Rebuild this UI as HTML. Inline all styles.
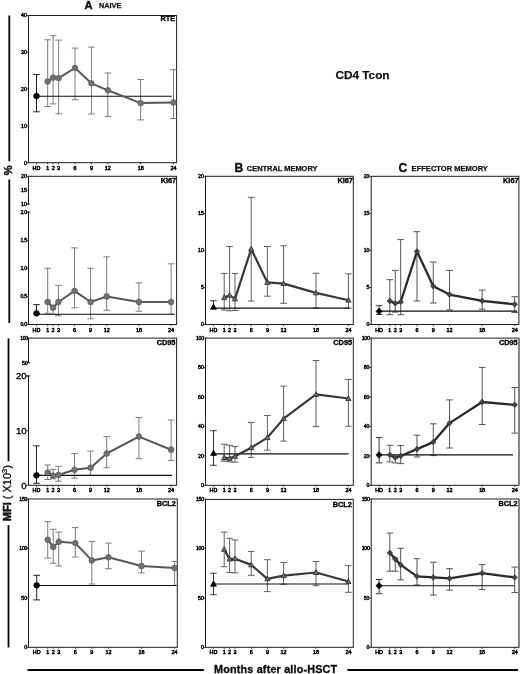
<!DOCTYPE html>
<html lang="en">
<head>
<meta charset="utf-8">
<title>CD4 Tcon</title>
<style>
html,body{margin:0;padding:0;background:#fff;}
body{width:520px;height:674px;overflow:hidden;font-family:"Liberation Sans", Arial, Helvetica, sans-serif;}
svg{display:block;filter:blur(0.35px);}
</style>
</head>
<body>
<svg width="520" height="674" viewBox="0 0 520 674" font-family='"Liberation Sans", Arial, Helvetica, sans-serif'>
<rect width="520" height="674" fill="#ffffff"/>
<g>
<rect x="28.5" y="15.5" width="148.1" height="147.2" fill="none" stroke="#1c1c1c" stroke-width="1"/>
<path d="M26.3 162.7H28.5" stroke="#1c1c1c" stroke-width="0.8"/>
<text x="26.8" y="164.57" font-size="5.2" text-anchor="end" fill="#000" stroke="#000" stroke-width="0.42">0</text>
<path d="M26.3 125.9H28.5" stroke="#1c1c1c" stroke-width="0.8"/>
<text x="26.8" y="127.77" font-size="5.2" text-anchor="end" fill="#000" stroke="#000" stroke-width="0.42">10</text>
<path d="M26.3 89.1H28.5" stroke="#1c1c1c" stroke-width="0.8"/>
<text x="26.8" y="90.97" font-size="5.2" text-anchor="end" fill="#000" stroke="#000" stroke-width="0.42">20</text>
<path d="M26.3 52.3H28.5" stroke="#1c1c1c" stroke-width="0.8"/>
<text x="26.8" y="54.17" font-size="5.2" text-anchor="end" fill="#000" stroke="#000" stroke-width="0.42">30</text>
<path d="M26.3 15.5H28.5" stroke="#1c1c1c" stroke-width="0.8"/>
<text x="26.8" y="17.37" font-size="5.2" text-anchor="end" fill="#000" stroke="#000" stroke-width="0.42">40</text>
<path d="M36.5 162.7V164.3" stroke="#1c1c1c" stroke-width="0.8"/>
<text x="36.5" y="169.7" font-size="5.4" text-anchor="middle" fill="#000" stroke="#000" stroke-width="0.5">HD</text>
<path d="M47.67 162.7V164.3" stroke="#1c1c1c" stroke-width="0.8"/>
<text x="47.67" y="169.7" font-size="5.4" text-anchor="middle" fill="#000" stroke="#000" stroke-width="0.5">1</text>
<path d="M53.14 162.7V164.3" stroke="#1c1c1c" stroke-width="0.8"/>
<text x="53.14" y="169.7" font-size="5.4" text-anchor="middle" fill="#000" stroke="#000" stroke-width="0.5">2</text>
<path d="M58.61 162.7V164.3" stroke="#1c1c1c" stroke-width="0.8"/>
<text x="58.61" y="169.7" font-size="5.4" text-anchor="middle" fill="#000" stroke="#000" stroke-width="0.5">3</text>
<path d="M75.02 162.7V164.3" stroke="#1c1c1c" stroke-width="0.8"/>
<text x="75.02" y="169.7" font-size="5.4" text-anchor="middle" fill="#000" stroke="#000" stroke-width="0.5">6</text>
<path d="M91.43 162.7V164.3" stroke="#1c1c1c" stroke-width="0.8"/>
<text x="91.43" y="169.7" font-size="5.4" text-anchor="middle" fill="#000" stroke="#000" stroke-width="0.5">9</text>
<path d="M107.84 162.7V164.3" stroke="#1c1c1c" stroke-width="0.8"/>
<text x="107.84" y="169.7" font-size="5.4" text-anchor="middle" fill="#000" stroke="#000" stroke-width="0.5">12</text>
<path d="M140.66 162.7V164.3" stroke="#1c1c1c" stroke-width="0.8"/>
<text x="140.66" y="169.7" font-size="5.4" text-anchor="middle" fill="#000" stroke="#000" stroke-width="0.5">18</text>
<path d="M173.48 162.7V164.3" stroke="#1c1c1c" stroke-width="0.8"/>
<text x="173.48" y="169.7" font-size="5.4" text-anchor="middle" fill="#000" stroke="#000" stroke-width="0.5">24</text>
<text x="175.1" y="21.3" font-size="7.3" font-weight="bold" text-anchor="end" fill="#000" stroke="#000" stroke-width="0.35">RTE</text>
<path d="M47.67 39.8V106.5M44.37 39.8H50.97M44.37 106.5H50.97" stroke="#7c7c7c" stroke-width="1" fill="none"/>
<path d="M53.14 35.6V103.9M49.84 35.6H56.44M49.84 103.9H56.44" stroke="#7c7c7c" stroke-width="1" fill="none"/>
<path d="M58.61 40.1V113.8M55.31 40.1H61.91M55.31 113.8H61.91" stroke="#7c7c7c" stroke-width="1" fill="none"/>
<path d="M75.02 48.1V99.7M71.72 48.1H78.32M71.72 99.7H78.32" stroke="#7c7c7c" stroke-width="1" fill="none"/>
<path d="M91.43 47.1V113.9M88.13 47.1H94.73M88.13 113.9H94.73" stroke="#7c7c7c" stroke-width="1" fill="none"/>
<path d="M107.84 73V116.6M104.54 73H111.14M104.54 116.6H111.14" stroke="#7c7c7c" stroke-width="1" fill="none"/>
<path d="M140.66 79.5V119.9M137.36 79.5H143.96M137.36 119.9H143.96" stroke="#7c7c7c" stroke-width="1" fill="none"/>
<path d="M173.48 69.7V118.5M170.18 69.7H176.78M170.18 118.5H176.78" stroke="#7c7c7c" stroke-width="1" fill="none"/>
<path d="M36.5 96.2H171.6" stroke="#0c0c0c" stroke-width="1.1"/>
<polyline points="47.67,81.5 53.14,77.6 58.61,78.1 75.02,68 91.43,83.3 107.84,90.3 140.66,103.1 173.48,102.4" fill="none" stroke="#585858" stroke-width="2" stroke-linejoin="round"/>
<circle cx="47.67" cy="81.5" r="2.9" fill="#707070" stroke="#5a5a5a" stroke-width="0.6"/>
<circle cx="53.14" cy="77.6" r="2.9" fill="#707070" stroke="#5a5a5a" stroke-width="0.6"/>
<circle cx="58.61" cy="78.1" r="2.9" fill="#707070" stroke="#5a5a5a" stroke-width="0.6"/>
<circle cx="75.02" cy="68" r="2.9" fill="#707070" stroke="#5a5a5a" stroke-width="0.6"/>
<circle cx="91.43" cy="83.3" r="2.9" fill="#707070" stroke="#5a5a5a" stroke-width="0.6"/>
<circle cx="107.84" cy="90.3" r="2.9" fill="#707070" stroke="#5a5a5a" stroke-width="0.6"/>
<circle cx="140.66" cy="103.1" r="2.9" fill="#707070" stroke="#5a5a5a" stroke-width="0.6"/>
<circle cx="173.48" cy="102.4" r="2.9" fill="#707070" stroke="#5a5a5a" stroke-width="0.6"/>
<path d="M36.5 74.5V111.8M33.2 74.5H39.8M33.2 111.8H39.8" stroke="#141414" stroke-width="0.95" fill="none"/>
<circle cx="36.5" cy="96" r="2.9" fill="#000" stroke="#000" stroke-width="0.6"/>
</g>
<g>
<rect x="28.5" y="176.3" width="148.1" height="148.2" fill="none" stroke="#1c1c1c" stroke-width="1"/>
<rect x="27.5" y="204.5" width="2" height="7.3" fill="#fff"/>
<path d="M26.5 204.1H30.4M26.5 212.2H30.4" stroke="#1c1c1c" stroke-width="0.9"/>
<path d="M26.3 176.3H28.5" stroke="#1c1c1c" stroke-width="0.8"/>
<text x="26.8" y="178.17" font-size="5.2" text-anchor="end" fill="#000" stroke="#000" stroke-width="0.42">20</text>
<path d="M26.3 190.2H28.5" stroke="#1c1c1c" stroke-width="0.8"/>
<text x="26.8" y="192.07" font-size="5.2" text-anchor="end" fill="#000" stroke="#000" stroke-width="0.42">15</text>
<path d="M26.3 204.1H28.5" stroke="#1c1c1c" stroke-width="0.8"/>
<text x="26.8" y="205.97" font-size="5.2" text-anchor="end" fill="#000" stroke="#000" stroke-width="0.42">10</text>
<path d="M26.3 212.2H28.5" stroke="#1c1c1c" stroke-width="0.8"/>
<text x="26.8" y="214.07" font-size="5.2" text-anchor="end" fill="#000" stroke="#000" stroke-width="0.42" letter-spacing="-0.3">2.0</text>
<path d="M26.3 240.3H28.5" stroke="#1c1c1c" stroke-width="0.8"/>
<text x="26.8" y="242.17" font-size="5.2" text-anchor="end" fill="#000" stroke="#000" stroke-width="0.42" letter-spacing="-0.3">1.5</text>
<path d="M26.3 268.35H28.5" stroke="#1c1c1c" stroke-width="0.8"/>
<text x="26.8" y="270.22" font-size="5.2" text-anchor="end" fill="#000" stroke="#000" stroke-width="0.42" letter-spacing="-0.3">1.0</text>
<path d="M26.3 296.4H28.5" stroke="#1c1c1c" stroke-width="0.8"/>
<text x="26.8" y="298.27" font-size="5.2" text-anchor="end" fill="#000" stroke="#000" stroke-width="0.42" letter-spacing="-0.3">0.5</text>
<path d="M26.3 324.5H28.5" stroke="#1c1c1c" stroke-width="0.8"/>
<text x="26.8" y="326.37" font-size="5.2" text-anchor="end" fill="#000" stroke="#000" stroke-width="0.42" letter-spacing="-0.3">0.0</text>
<path d="M36.5 324.5V326.1" stroke="#1c1c1c" stroke-width="0.8"/>
<text x="36.5" y="331.5" font-size="5.4" text-anchor="middle" fill="#000" stroke="#000" stroke-width="0.5">HD</text>
<path d="M47.7 324.5V326.1" stroke="#1c1c1c" stroke-width="0.8"/>
<text x="47.7" y="331.5" font-size="5.4" text-anchor="middle" fill="#000" stroke="#000" stroke-width="0.5">1</text>
<path d="M53.06 324.5V326.1" stroke="#1c1c1c" stroke-width="0.8"/>
<text x="53.06" y="331.5" font-size="5.4" text-anchor="middle" fill="#000" stroke="#000" stroke-width="0.5">2</text>
<path d="M58.42 324.5V326.1" stroke="#1c1c1c" stroke-width="0.8"/>
<text x="58.42" y="331.5" font-size="5.4" text-anchor="middle" fill="#000" stroke="#000" stroke-width="0.5">3</text>
<path d="M74.52 324.5V326.1" stroke="#1c1c1c" stroke-width="0.8"/>
<text x="74.52" y="331.5" font-size="5.4" text-anchor="middle" fill="#000" stroke="#000" stroke-width="0.5">6</text>
<path d="M90.62 324.5V326.1" stroke="#1c1c1c" stroke-width="0.8"/>
<text x="90.62" y="331.5" font-size="5.4" text-anchor="middle" fill="#000" stroke="#000" stroke-width="0.5">9</text>
<path d="M106.71 324.5V326.1" stroke="#1c1c1c" stroke-width="0.8"/>
<text x="106.71" y="331.5" font-size="5.4" text-anchor="middle" fill="#000" stroke="#000" stroke-width="0.5">12</text>
<path d="M138.9 324.5V326.1" stroke="#1c1c1c" stroke-width="0.8"/>
<text x="138.9" y="331.5" font-size="5.4" text-anchor="middle" fill="#000" stroke="#000" stroke-width="0.5">18</text>
<path d="M171.09 324.5V326.1" stroke="#1c1c1c" stroke-width="0.8"/>
<text x="171.09" y="331.5" font-size="5.4" text-anchor="middle" fill="#000" stroke="#000" stroke-width="0.5">24</text>
<text x="176.2" y="183.3" font-size="7.3" font-weight="bold" text-anchor="end" fill="#000" stroke="#000" stroke-width="0.35">Ki67</text>
<path d="M47.7 268.3V313.3M44.4 268.3H50.99M44.4 313.3H50.99" stroke="#7c7c7c" stroke-width="1" fill="none"/>
<path d="M53.06 305.5V314.3M49.76 305.5H56.36M49.76 314.3H56.36" stroke="#7c7c7c" stroke-width="1" fill="none"/>
<path d="M58.42 285.3V315.7M55.12 285.3H61.72M55.12 315.7H61.72" stroke="#7c7c7c" stroke-width="1" fill="none"/>
<path d="M74.52 247.9V307.8M71.22 247.9H77.82M71.22 307.8H77.82" stroke="#7c7c7c" stroke-width="1" fill="none"/>
<path d="M90.62 268.3V318.8M87.32 268.3H93.92M87.32 318.8H93.92" stroke="#7c7c7c" stroke-width="1" fill="none"/>
<path d="M106.71 256.9V310.2M103.41 256.9H110.01M103.41 310.2H110.01" stroke="#7c7c7c" stroke-width="1" fill="none"/>
<path d="M138.9 282.8V311.2M135.6 282.8H142.2M135.6 311.2H142.2" stroke="#7c7c7c" stroke-width="1" fill="none"/>
<path d="M171.09 263.8V314.3M167.79 263.8H174.39M167.79 314.3H174.39" stroke="#7c7c7c" stroke-width="1" fill="none"/>
<path d="M36.5 314.3H174.5" stroke="#0c0c0c" stroke-width="1.1"/>
<polyline points="47.7,302 53.06,307.7 58.42,302 74.52,290.9 90.62,302 106.71,296.5 138.9,302 171.09,302" fill="none" stroke="#585858" stroke-width="2" stroke-linejoin="round"/>
<circle cx="47.7" cy="302" r="2.9" fill="#707070" stroke="#5a5a5a" stroke-width="0.6"/>
<circle cx="53.06" cy="307.7" r="2.9" fill="#707070" stroke="#5a5a5a" stroke-width="0.6"/>
<circle cx="58.42" cy="302" r="2.9" fill="#707070" stroke="#5a5a5a" stroke-width="0.6"/>
<circle cx="74.52" cy="290.9" r="2.9" fill="#707070" stroke="#5a5a5a" stroke-width="0.6"/>
<circle cx="90.62" cy="302" r="2.9" fill="#707070" stroke="#5a5a5a" stroke-width="0.6"/>
<circle cx="106.71" cy="296.5" r="2.9" fill="#707070" stroke="#5a5a5a" stroke-width="0.6"/>
<circle cx="138.9" cy="302" r="2.9" fill="#707070" stroke="#5a5a5a" stroke-width="0.6"/>
<circle cx="171.09" cy="302" r="2.9" fill="#707070" stroke="#5a5a5a" stroke-width="0.6"/>
<path d="M36.5 304.6V313.3M33.2 304.6H39.8" stroke="#141414" stroke-width="0.95" fill="none"/>
<circle cx="36.5" cy="313.3" r="2.9" fill="#000" stroke="#000" stroke-width="0.6"/>
</g>
<g>
<rect x="28.5" y="338.1" width="148.1" height="147.2" fill="none" stroke="#1c1c1c" stroke-width="1"/>
<rect x="27.5" y="363.1" width="2" height="12.5" fill="#fff"/>
<path d="M26.9 362.7H30.4M26.3 376H30.4" stroke="#1c1c1c" stroke-width="0.9"/>
<path d="M26.3 338.1H28.5" stroke="#1c1c1c" stroke-width="0.8"/>
<text x="27.9" y="339.97" font-size="5.2" text-anchor="end" fill="#000" stroke="#000" stroke-width="0.42" letter-spacing="-0.3">100</text>
<path d="M26.3 362.7H28.5" stroke="#1c1c1c" stroke-width="0.8"/>
<text x="27.9" y="364.57" font-size="5.2" text-anchor="end" fill="#000" stroke="#000" stroke-width="0.42">50</text>
<path d="M26.3 376H28.5" stroke="#1c1c1c" stroke-width="0.8"/>
<text x="26.6" y="379.46" font-size="9.6" text-anchor="end" fill="#000" stroke="#000" stroke-width="0.35">20</text>
<path d="M26.3 430.65H28.5" stroke="#1c1c1c" stroke-width="0.8"/>
<text x="26.6" y="434.11" font-size="9.6" text-anchor="end" fill="#000" stroke="#000" stroke-width="0.35">10</text>
<path d="M26.3 485.3H28.5" stroke="#1c1c1c" stroke-width="0.8"/>
<text x="26.6" y="488.76" font-size="9.6" text-anchor="end" fill="#000" stroke="#000" stroke-width="0.35">0</text>
<path d="M36.5 485.3V486.9" stroke="#1c1c1c" stroke-width="0.8"/>
<text x="36.5" y="492.3" font-size="5.4" text-anchor="middle" fill="#000" stroke="#000" stroke-width="0.5">HD</text>
<path d="M47.7 485.3V486.9" stroke="#1c1c1c" stroke-width="0.8"/>
<text x="47.7" y="492.3" font-size="5.4" text-anchor="middle" fill="#000" stroke="#000" stroke-width="0.5">1</text>
<path d="M53.06 485.3V486.9" stroke="#1c1c1c" stroke-width="0.8"/>
<text x="53.06" y="492.3" font-size="5.4" text-anchor="middle" fill="#000" stroke="#000" stroke-width="0.5">2</text>
<path d="M58.42 485.3V486.9" stroke="#1c1c1c" stroke-width="0.8"/>
<text x="58.42" y="492.3" font-size="5.4" text-anchor="middle" fill="#000" stroke="#000" stroke-width="0.5">3</text>
<path d="M74.52 485.3V486.9" stroke="#1c1c1c" stroke-width="0.8"/>
<text x="74.52" y="492.3" font-size="5.4" text-anchor="middle" fill="#000" stroke="#000" stroke-width="0.5">6</text>
<path d="M90.62 485.3V486.9" stroke="#1c1c1c" stroke-width="0.8"/>
<text x="90.62" y="492.3" font-size="5.4" text-anchor="middle" fill="#000" stroke="#000" stroke-width="0.5">9</text>
<path d="M106.71 485.3V486.9" stroke="#1c1c1c" stroke-width="0.8"/>
<text x="106.71" y="492.3" font-size="5.4" text-anchor="middle" fill="#000" stroke="#000" stroke-width="0.5">12</text>
<path d="M138.9 485.3V486.9" stroke="#1c1c1c" stroke-width="0.8"/>
<text x="138.9" y="492.3" font-size="5.4" text-anchor="middle" fill="#000" stroke="#000" stroke-width="0.5">18</text>
<path d="M171.09 485.3V486.9" stroke="#1c1c1c" stroke-width="0.8"/>
<text x="171.09" y="492.3" font-size="5.4" text-anchor="middle" fill="#000" stroke="#000" stroke-width="0.5">24</text>
<text x="175.3" y="345.1" font-size="7.3" font-weight="bold" text-anchor="end" fill="#000" stroke="#000" stroke-width="0.35">CD95</text>
<path d="M47.7 465V479.5M44.4 465H50.99M44.4 479.5H50.99" stroke="#7c7c7c" stroke-width="1" fill="none"/>
<path d="M53.06 469.4V478.8M49.76 469.4H56.36M49.76 478.8H56.36" stroke="#7c7c7c" stroke-width="1" fill="none"/>
<path d="M58.42 466.3V481.2M55.12 466.3H61.72M55.12 481.2H61.72" stroke="#7c7c7c" stroke-width="1" fill="none"/>
<path d="M74.52 453.5V478.1M71.22 453.5H77.82M71.22 478.1H77.82" stroke="#7c7c7c" stroke-width="1" fill="none"/>
<path d="M90.62 451.1V475.3M87.32 451.1H93.92M87.32 475.3H93.92" stroke="#7c7c7c" stroke-width="1" fill="none"/>
<path d="M106.71 436.6V467.7M103.41 436.6H110.01M103.41 467.7H110.01" stroke="#7c7c7c" stroke-width="1" fill="none"/>
<path d="M138.9 417.5V458.7M135.6 417.5H142.2M135.6 458.7H142.2" stroke="#7c7c7c" stroke-width="1" fill="none"/>
<path d="M171.09 420V460.4M167.79 420H174.39M167.79 460.4H174.39" stroke="#7c7c7c" stroke-width="1" fill="none"/>
<path d="M36.5 475.4H172" stroke="#0c0c0c" stroke-width="1.1"/>
<polyline points="47.7,472.6 53.06,475.7 58.42,475 74.52,469.8 90.62,467.7 106.71,453.5 138.9,436.6 171.09,449.7" fill="none" stroke="#585858" stroke-width="2" stroke-linejoin="round"/>
<circle cx="47.7" cy="472.6" r="2.9" fill="#707070" stroke="#5a5a5a" stroke-width="0.6"/>
<circle cx="53.06" cy="475.7" r="2.9" fill="#707070" stroke="#5a5a5a" stroke-width="0.6"/>
<circle cx="58.42" cy="475" r="2.9" fill="#707070" stroke="#5a5a5a" stroke-width="0.6"/>
<circle cx="74.52" cy="469.8" r="2.9" fill="#707070" stroke="#5a5a5a" stroke-width="0.6"/>
<circle cx="90.62" cy="467.7" r="2.9" fill="#707070" stroke="#5a5a5a" stroke-width="0.6"/>
<circle cx="106.71" cy="453.5" r="2.9" fill="#707070" stroke="#5a5a5a" stroke-width="0.6"/>
<circle cx="138.9" cy="436.6" r="2.9" fill="#707070" stroke="#5a5a5a" stroke-width="0.6"/>
<circle cx="171.09" cy="449.7" r="2.9" fill="#707070" stroke="#5a5a5a" stroke-width="0.6"/>
<path d="M36.5 445.9V483.3M33.2 445.9H39.8M33.2 483.3H39.8" stroke="#141414" stroke-width="0.95" fill="none"/>
<circle cx="36.5" cy="475.3" r="2.9" fill="#000" stroke="#000" stroke-width="0.6"/>
</g>
<g>
<rect x="28.5" y="499" width="148.8" height="148.3" fill="none" stroke="#1c1c1c" stroke-width="1"/>
<path d="M26.3 647.3H28.5" stroke="#1c1c1c" stroke-width="0.8"/>
<text x="27.1" y="649.17" font-size="5.2" text-anchor="end" fill="#000" stroke="#000" stroke-width="0.42">0</text>
<path d="M26.3 597.87H28.5" stroke="#1c1c1c" stroke-width="0.8"/>
<text x="27.1" y="599.74" font-size="5.2" text-anchor="end" fill="#000" stroke="#000" stroke-width="0.42">50</text>
<path d="M26.3 548.43H28.5" stroke="#1c1c1c" stroke-width="0.8"/>
<text x="27.1" y="550.31" font-size="5.2" text-anchor="end" fill="#000" stroke="#000" stroke-width="0.42" letter-spacing="-0.3">100</text>
<path d="M26.3 499H28.5" stroke="#1c1c1c" stroke-width="0.8"/>
<text x="27.1" y="500.87" font-size="5.2" text-anchor="end" fill="#000" stroke="#000" stroke-width="0.42" letter-spacing="-0.3">150</text>
<path d="M36.7 647.3V648.9" stroke="#1c1c1c" stroke-width="0.8"/>
<text x="36.7" y="654.3" font-size="5.4" text-anchor="middle" fill="#000" stroke="#000" stroke-width="0.5">HD</text>
<path d="M47.72 647.3V648.9" stroke="#1c1c1c" stroke-width="0.8"/>
<text x="47.72" y="654.3" font-size="5.4" text-anchor="middle" fill="#000" stroke="#000" stroke-width="0.5">1</text>
<path d="M53.23 647.3V648.9" stroke="#1c1c1c" stroke-width="0.8"/>
<text x="53.23" y="654.3" font-size="5.4" text-anchor="middle" fill="#000" stroke="#000" stroke-width="0.5">2</text>
<path d="M58.75 647.3V648.9" stroke="#1c1c1c" stroke-width="0.8"/>
<text x="58.75" y="654.3" font-size="5.4" text-anchor="middle" fill="#000" stroke="#000" stroke-width="0.5">3</text>
<path d="M75.3 647.3V648.9" stroke="#1c1c1c" stroke-width="0.8"/>
<text x="75.3" y="654.3" font-size="5.4" text-anchor="middle" fill="#000" stroke="#000" stroke-width="0.5">6</text>
<path d="M91.85 647.3V648.9" stroke="#1c1c1c" stroke-width="0.8"/>
<text x="91.85" y="654.3" font-size="5.4" text-anchor="middle" fill="#000" stroke="#000" stroke-width="0.5">9</text>
<path d="M108.4 647.3V648.9" stroke="#1c1c1c" stroke-width="0.8"/>
<text x="108.4" y="654.3" font-size="5.4" text-anchor="middle" fill="#000" stroke="#000" stroke-width="0.5">12</text>
<path d="M141.51 647.3V648.9" stroke="#1c1c1c" stroke-width="0.8"/>
<text x="141.51" y="654.3" font-size="5.4" text-anchor="middle" fill="#000" stroke="#000" stroke-width="0.5">18</text>
<path d="M174.61 647.3V648.9" stroke="#1c1c1c" stroke-width="0.8"/>
<text x="174.61" y="654.3" font-size="5.4" text-anchor="middle" fill="#000" stroke="#000" stroke-width="0.5">24</text>
<text x="175.9" y="506" font-size="7.3" font-weight="bold" text-anchor="end" fill="#000" stroke="#000" stroke-width="0.35">BCL2</text>
<path d="M47.72 521.7V558M44.42 521.7H51.02M44.42 558H51.02" stroke="#7c7c7c" stroke-width="1" fill="none"/>
<path d="M53.23 529.3V563.2M49.93 529.3H56.53M49.93 563.2H56.53" stroke="#7c7c7c" stroke-width="1" fill="none"/>
<path d="M58.75 532.1V566M55.45 532.1H62.05M55.45 566H62.05" stroke="#7c7c7c" stroke-width="1" fill="none"/>
<path d="M75.3 527.6V557M72 527.6H78.6M72 557H78.6" stroke="#7c7c7c" stroke-width="1" fill="none"/>
<path d="M91.85 541.4V584M88.55 541.4H95.15M88.55 584H95.15" stroke="#7c7c7c" stroke-width="1" fill="none"/>
<path d="M108.4 543.1V568.7M105.1 543.1H111.7M105.1 568.7H111.7" stroke="#7c7c7c" stroke-width="1" fill="none"/>
<path d="M141.51 551.1V572.9M138.21 551.1H144.81M138.21 572.9H144.81" stroke="#7c7c7c" stroke-width="1" fill="none"/>
<path d="M174.61 561.5V585.5M171.31 561.5H177.91M171.31 585.5H177.91" stroke="#7c7c7c" stroke-width="1" fill="none"/>
<path d="M36.7 585.5H176.5" stroke="#0c0c0c" stroke-width="1.1"/>
<polyline points="47.72,539.7 53.23,546.9 58.75,541.8 75.3,543.1 91.85,560.4 108.4,557.3 141.51,566 174.61,568" fill="none" stroke="#585858" stroke-width="2" stroke-linejoin="round"/>
<circle cx="47.72" cy="539.7" r="2.9" fill="#707070" stroke="#5a5a5a" stroke-width="0.6"/>
<circle cx="53.23" cy="546.9" r="2.9" fill="#707070" stroke="#5a5a5a" stroke-width="0.6"/>
<circle cx="58.75" cy="541.8" r="2.9" fill="#707070" stroke="#5a5a5a" stroke-width="0.6"/>
<circle cx="75.3" cy="543.1" r="2.9" fill="#707070" stroke="#5a5a5a" stroke-width="0.6"/>
<circle cx="91.85" cy="560.4" r="2.9" fill="#707070" stroke="#5a5a5a" stroke-width="0.6"/>
<circle cx="108.4" cy="557.3" r="2.9" fill="#707070" stroke="#5a5a5a" stroke-width="0.6"/>
<circle cx="141.51" cy="566" r="2.9" fill="#707070" stroke="#5a5a5a" stroke-width="0.6"/>
<circle cx="174.61" cy="568" r="2.9" fill="#707070" stroke="#5a5a5a" stroke-width="0.6"/>
<path d="M36.7 575.3V599.9M33.4 575.3H40M33.4 599.9H40" stroke="#141414" stroke-width="0.95" fill="none"/>
<circle cx="36.7" cy="585.3" r="2.9" fill="#000" stroke="#000" stroke-width="0.6"/>
</g>
<g>
<rect x="205.5" y="176.3" width="147.8" height="148.2" fill="none" stroke="#1c1c1c" stroke-width="1"/>
<path d="M203.3 324.5H205.5" stroke="#1c1c1c" stroke-width="0.8"/>
<text x="203.8" y="326.37" font-size="5.2" text-anchor="end" fill="#000" stroke="#000" stroke-width="0.42">0</text>
<path d="M203.3 287.45H205.5" stroke="#1c1c1c" stroke-width="0.8"/>
<text x="203.8" y="289.32" font-size="5.2" text-anchor="end" fill="#000" stroke="#000" stroke-width="0.42">5</text>
<path d="M203.3 250.4H205.5" stroke="#1c1c1c" stroke-width="0.8"/>
<text x="203.8" y="252.27" font-size="5.2" text-anchor="end" fill="#000" stroke="#000" stroke-width="0.42">10</text>
<path d="M203.3 213.35H205.5" stroke="#1c1c1c" stroke-width="0.8"/>
<text x="203.8" y="215.22" font-size="5.2" text-anchor="end" fill="#000" stroke="#000" stroke-width="0.42">15</text>
<path d="M203.3 176.3H205.5" stroke="#1c1c1c" stroke-width="0.8"/>
<text x="203.8" y="178.17" font-size="5.2" text-anchor="end" fill="#000" stroke="#000" stroke-width="0.42">20</text>
<path d="M213.5 324.5V326.1" stroke="#1c1c1c" stroke-width="0.8"/>
<text x="213.5" y="331.5" font-size="5.4" text-anchor="middle" fill="#000" stroke="#000" stroke-width="0.5">HD</text>
<path d="M224.2 324.5V326.1" stroke="#1c1c1c" stroke-width="0.8"/>
<text x="224.2" y="331.5" font-size="5.4" text-anchor="middle" fill="#000" stroke="#000" stroke-width="0.5">1</text>
<path d="M229.6 324.5V326.1" stroke="#1c1c1c" stroke-width="0.8"/>
<text x="229.6" y="331.5" font-size="5.4" text-anchor="middle" fill="#000" stroke="#000" stroke-width="0.5">2</text>
<path d="M235 324.5V326.1" stroke="#1c1c1c" stroke-width="0.8"/>
<text x="235" y="331.5" font-size="5.4" text-anchor="middle" fill="#000" stroke="#000" stroke-width="0.5">3</text>
<path d="M251.2 324.5V326.1" stroke="#1c1c1c" stroke-width="0.8"/>
<text x="251.2" y="331.5" font-size="5.4" text-anchor="middle" fill="#000" stroke="#000" stroke-width="0.5">6</text>
<path d="M267.4 324.5V326.1" stroke="#1c1c1c" stroke-width="0.8"/>
<text x="267.4" y="331.5" font-size="5.4" text-anchor="middle" fill="#000" stroke="#000" stroke-width="0.5">9</text>
<path d="M283.6 324.5V326.1" stroke="#1c1c1c" stroke-width="0.8"/>
<text x="283.6" y="331.5" font-size="5.4" text-anchor="middle" fill="#000" stroke="#000" stroke-width="0.5">12</text>
<path d="M316 324.5V326.1" stroke="#1c1c1c" stroke-width="0.8"/>
<text x="316" y="331.5" font-size="5.4" text-anchor="middle" fill="#000" stroke="#000" stroke-width="0.5">18</text>
<path d="M348.4 324.5V326.1" stroke="#1c1c1c" stroke-width="0.8"/>
<text x="348.4" y="331.5" font-size="5.4" text-anchor="middle" fill="#000" stroke="#000" stroke-width="0.5">24</text>
<text x="352.9" y="183.3" font-size="7.3" font-weight="bold" text-anchor="end" fill="#000" stroke="#000" stroke-width="0.35">Ki67</text>
<path d="M224.2 273.4V310M220.9 273.4H227.5M220.9 310H227.5" stroke="#5e5e5e" stroke-width="1" fill="none"/>
<path d="M229.6 246.5V310.8M226.3 246.5H232.9M226.3 310.8H232.9" stroke="#5e5e5e" stroke-width="1" fill="none"/>
<path d="M235 273.4V310.4M231.7 273.4H238.3M231.7 310.4H238.3" stroke="#5e5e5e" stroke-width="1" fill="none"/>
<path d="M251.2 197.4V301M247.9 197.4H254.5M247.9 301H254.5" stroke="#5e5e5e" stroke-width="1" fill="none"/>
<path d="M267.4 246.5V296.2M264.1 246.5H270.7M264.1 296.2H270.7" stroke="#5e5e5e" stroke-width="1" fill="none"/>
<path d="M283.6 245.8V303.3M280.3 245.8H286.9M280.3 303.3H286.9" stroke="#5e5e5e" stroke-width="1" fill="none"/>
<path d="M316 273.2V308.1M312.7 273.2H319.3M312.7 308.1H319.3" stroke="#5e5e5e" stroke-width="1" fill="none"/>
<path d="M348.4 273.9V308.1M345.1 273.9H351.7M345.1 308.1H351.7" stroke="#5e5e5e" stroke-width="1" fill="none"/>
<path d="M213.5 308.1H349.6" stroke="#0c0c0c" stroke-width="1.1"/>
<polyline points="224.2,297.6 229.6,295.3 235,298.9 251.2,249 267.4,282.4 283.6,283.6 316,292.9 348.4,300.2" fill="none" stroke="#383838" stroke-width="2.2" stroke-linejoin="round"/>
<polygon points="224.2,294.87 226.8,299.57 221.6,299.57" fill="#707070" stroke="#333333" stroke-width="0.9" stroke-linejoin="miter"/>
<polygon points="229.6,292.57 232.2,297.27 227,297.27" fill="#707070" stroke="#333333" stroke-width="0.9" stroke-linejoin="miter"/>
<polygon points="235,296.17 237.6,300.87 232.4,300.87" fill="#707070" stroke="#333333" stroke-width="0.9" stroke-linejoin="miter"/>
<polygon points="251.2,246.27 253.8,250.97 248.6,250.97" fill="#707070" stroke="#333333" stroke-width="0.9" stroke-linejoin="miter"/>
<polygon points="267.4,279.67 270,284.37 264.8,284.37" fill="#707070" stroke="#333333" stroke-width="0.9" stroke-linejoin="miter"/>
<polygon points="283.6,280.87 286.2,285.57 281,285.57" fill="#707070" stroke="#333333" stroke-width="0.9" stroke-linejoin="miter"/>
<polygon points="316,290.17 318.6,294.87 313.4,294.87" fill="#707070" stroke="#333333" stroke-width="0.9" stroke-linejoin="miter"/>
<polygon points="348.4,297.47 351,302.17 345.8,302.17" fill="#707070" stroke="#333333" stroke-width="0.9" stroke-linejoin="miter"/>
<path d="M213.5 300.7V307M210.2 300.7H216.8" stroke="#2c2c2c" stroke-width="0.95" fill="none"/>
<polygon points="213.5,304 216.36,309.17 210.64,309.17" fill="#000" stroke="#000" stroke-width="0.9" stroke-linejoin="miter"/>
</g>
<g>
<rect x="371.2" y="176.3" width="147.7" height="148.2" fill="none" stroke="#1c1c1c" stroke-width="1"/>
<path d="M369 324.5H371.2" stroke="#1c1c1c" stroke-width="0.8"/>
<text x="369.5" y="326.37" font-size="5.2" text-anchor="end" fill="#000" stroke="#000" stroke-width="0.42">0</text>
<path d="M369 287.45H371.2" stroke="#1c1c1c" stroke-width="0.8"/>
<text x="369.5" y="289.32" font-size="5.2" text-anchor="end" fill="#000" stroke="#000" stroke-width="0.42">5</text>
<path d="M369 250.4H371.2" stroke="#1c1c1c" stroke-width="0.8"/>
<text x="369.5" y="252.27" font-size="5.2" text-anchor="end" fill="#000" stroke="#000" stroke-width="0.42">10</text>
<path d="M369 213.35H371.2" stroke="#1c1c1c" stroke-width="0.8"/>
<text x="369.5" y="215.22" font-size="5.2" text-anchor="end" fill="#000" stroke="#000" stroke-width="0.42">15</text>
<path d="M369 176.3H371.2" stroke="#1c1c1c" stroke-width="0.8"/>
<text x="369.5" y="178.17" font-size="5.2" text-anchor="end" fill="#000" stroke="#000" stroke-width="0.42">20</text>
<path d="M379.1 324.5V326.1" stroke="#1c1c1c" stroke-width="0.8"/>
<text x="379.1" y="331.5" font-size="5.4" text-anchor="middle" fill="#000" stroke="#000" stroke-width="0.5">HD</text>
<path d="M389.83 324.5V326.1" stroke="#1c1c1c" stroke-width="0.8"/>
<text x="389.83" y="331.5" font-size="5.4" text-anchor="middle" fill="#000" stroke="#000" stroke-width="0.5">1</text>
<path d="M395.26 324.5V326.1" stroke="#1c1c1c" stroke-width="0.8"/>
<text x="395.26" y="331.5" font-size="5.4" text-anchor="middle" fill="#000" stroke="#000" stroke-width="0.5">2</text>
<path d="M400.69 324.5V326.1" stroke="#1c1c1c" stroke-width="0.8"/>
<text x="400.69" y="331.5" font-size="5.4" text-anchor="middle" fill="#000" stroke="#000" stroke-width="0.5">3</text>
<path d="M416.98 324.5V326.1" stroke="#1c1c1c" stroke-width="0.8"/>
<text x="416.98" y="331.5" font-size="5.4" text-anchor="middle" fill="#000" stroke="#000" stroke-width="0.5">6</text>
<path d="M433.27 324.5V326.1" stroke="#1c1c1c" stroke-width="0.8"/>
<text x="433.27" y="331.5" font-size="5.4" text-anchor="middle" fill="#000" stroke="#000" stroke-width="0.5">9</text>
<path d="M449.56 324.5V326.1" stroke="#1c1c1c" stroke-width="0.8"/>
<text x="449.56" y="331.5" font-size="5.4" text-anchor="middle" fill="#000" stroke="#000" stroke-width="0.5">12</text>
<path d="M482.14 324.5V326.1" stroke="#1c1c1c" stroke-width="0.8"/>
<text x="482.14" y="331.5" font-size="5.4" text-anchor="middle" fill="#000" stroke="#000" stroke-width="0.5">18</text>
<path d="M514.72 324.5V326.1" stroke="#1c1c1c" stroke-width="0.8"/>
<text x="514.72" y="331.5" font-size="5.4" text-anchor="middle" fill="#000" stroke="#000" stroke-width="0.5">24</text>
<text x="518.5" y="183.3" font-size="7.3" font-weight="bold" text-anchor="end" fill="#000" stroke="#000" stroke-width="0.35">Ki67</text>
<path d="M389.83 279.7V314.7M386.53 279.7H393.13M386.53 314.7H393.13" stroke="#545454" stroke-width="1" fill="none"/>
<path d="M395.26 270.4V312.1M391.96 270.4H398.56M391.96 312.1H398.56" stroke="#545454" stroke-width="1" fill="none"/>
<path d="M400.69 239.6V314.7M397.39 239.6H403.99M397.39 314.7H403.99" stroke="#545454" stroke-width="1" fill="none"/>
<path d="M416.98 231.7V301M413.68 231.7H420.28M413.68 301H420.28" stroke="#545454" stroke-width="1" fill="none"/>
<path d="M433.27 262.1V303M429.97 262.1H436.57M429.97 303H436.57" stroke="#545454" stroke-width="1" fill="none"/>
<path d="M449.56 270.4V309.9M446.26 270.4H452.86M446.26 309.9H452.86" stroke="#545454" stroke-width="1" fill="none"/>
<path d="M482.14 290.1V309.2M478.84 290.1H485.44M478.84 309.2H485.44" stroke="#545454" stroke-width="1" fill="none"/>
<path d="M514.72 296.7V312.6M511.42 296.7H518.02M511.42 312.6H518.02" stroke="#545454" stroke-width="1" fill="none"/>
<path d="M379.1 311.1H517.3" stroke="#0c0c0c" stroke-width="1.1"/>
<polyline points="389.83,301 395.26,303.4 400.69,302 416.98,251.4 433.27,286.2 449.56,294.6 482.14,300.9 514.72,304.3" fill="none" stroke="#2a2a2a" stroke-width="2.3" stroke-linejoin="round"/>
<polygon points="389.83,298.1 392.63,301 389.83,303.9 387.03,301" fill="#444444" stroke="#2a2a2a" stroke-width="0.5"/>
<polygon points="395.26,300.5 398.06,303.4 395.26,306.3 392.46,303.4" fill="#444444" stroke="#2a2a2a" stroke-width="0.5"/>
<polygon points="400.69,299.1 403.49,302 400.69,304.9 397.89,302" fill="#444444" stroke="#2a2a2a" stroke-width="0.5"/>
<polygon points="416.98,248.5 419.78,251.4 416.98,254.3 414.18,251.4" fill="#444444" stroke="#2a2a2a" stroke-width="0.5"/>
<polygon points="433.27,283.3 436.07,286.2 433.27,289.1 430.47,286.2" fill="#444444" stroke="#2a2a2a" stroke-width="0.5"/>
<polygon points="449.56,291.7 452.36,294.6 449.56,297.5 446.76,294.6" fill="#444444" stroke="#2a2a2a" stroke-width="0.5"/>
<polygon points="482.14,298 484.94,300.9 482.14,303.8 479.34,300.9" fill="#444444" stroke="#2a2a2a" stroke-width="0.5"/>
<polygon points="514.72,301.4 517.52,304.3 514.72,307.2 511.92,304.3" fill="#444444" stroke="#2a2a2a" stroke-width="0.5"/>
<path d="M379.1 305.7V314.4M375.8 305.7H382.4M375.8 314.4H382.4" stroke="#2c2c2c" stroke-width="0.95" fill="none"/>
<polygon points="379.1,307.97 382.32,311.3 379.1,314.63 375.88,311.3" fill="#000" stroke="#000" stroke-width="0.5"/>
</g>
<g>
<rect x="205.5" y="338.1" width="147.8" height="147.2" fill="none" stroke="#1c1c1c" stroke-width="1"/>
<path d="M203.3 485.3H205.5" stroke="#1c1c1c" stroke-width="0.8"/>
<text x="203.8" y="487.17" font-size="5.2" text-anchor="end" fill="#000" stroke="#000" stroke-width="0.42">0</text>
<path d="M203.3 455.86H205.5" stroke="#1c1c1c" stroke-width="0.8"/>
<text x="203.8" y="457.73" font-size="5.2" text-anchor="end" fill="#000" stroke="#000" stroke-width="0.42">20</text>
<path d="M203.3 426.42H205.5" stroke="#1c1c1c" stroke-width="0.8"/>
<text x="203.8" y="428.29" font-size="5.2" text-anchor="end" fill="#000" stroke="#000" stroke-width="0.42">40</text>
<path d="M203.3 396.98H205.5" stroke="#1c1c1c" stroke-width="0.8"/>
<text x="203.8" y="398.85" font-size="5.2" text-anchor="end" fill="#000" stroke="#000" stroke-width="0.42">60</text>
<path d="M203.3 367.54H205.5" stroke="#1c1c1c" stroke-width="0.8"/>
<text x="203.8" y="369.41" font-size="5.2" text-anchor="end" fill="#000" stroke="#000" stroke-width="0.42">80</text>
<path d="M203.3 338.1H205.5" stroke="#1c1c1c" stroke-width="0.8"/>
<text x="203.8" y="339.97" font-size="5.2" text-anchor="end" fill="#000" stroke="#000" stroke-width="0.42" letter-spacing="-0.3">100</text>
<path d="M213.5 485.3V486.9" stroke="#1c1c1c" stroke-width="0.8"/>
<text x="213.5" y="492.3" font-size="5.4" text-anchor="middle" fill="#000" stroke="#000" stroke-width="0.5">HD</text>
<path d="M224.2 485.3V486.9" stroke="#1c1c1c" stroke-width="0.8"/>
<text x="224.2" y="492.3" font-size="5.4" text-anchor="middle" fill="#000" stroke="#000" stroke-width="0.5">1</text>
<path d="M229.6 485.3V486.9" stroke="#1c1c1c" stroke-width="0.8"/>
<text x="229.6" y="492.3" font-size="5.4" text-anchor="middle" fill="#000" stroke="#000" stroke-width="0.5">2</text>
<path d="M235 485.3V486.9" stroke="#1c1c1c" stroke-width="0.8"/>
<text x="235" y="492.3" font-size="5.4" text-anchor="middle" fill="#000" stroke="#000" stroke-width="0.5">3</text>
<path d="M251.2 485.3V486.9" stroke="#1c1c1c" stroke-width="0.8"/>
<text x="251.2" y="492.3" font-size="5.4" text-anchor="middle" fill="#000" stroke="#000" stroke-width="0.5">6</text>
<path d="M267.4 485.3V486.9" stroke="#1c1c1c" stroke-width="0.8"/>
<text x="267.4" y="492.3" font-size="5.4" text-anchor="middle" fill="#000" stroke="#000" stroke-width="0.5">9</text>
<path d="M283.6 485.3V486.9" stroke="#1c1c1c" stroke-width="0.8"/>
<text x="283.6" y="492.3" font-size="5.4" text-anchor="middle" fill="#000" stroke="#000" stroke-width="0.5">12</text>
<path d="M316 485.3V486.9" stroke="#1c1c1c" stroke-width="0.8"/>
<text x="316" y="492.3" font-size="5.4" text-anchor="middle" fill="#000" stroke="#000" stroke-width="0.5">18</text>
<path d="M348.4 485.3V486.9" stroke="#1c1c1c" stroke-width="0.8"/>
<text x="348.4" y="492.3" font-size="5.4" text-anchor="middle" fill="#000" stroke="#000" stroke-width="0.5">24</text>
<text x="352" y="345.1" font-size="7.3" font-weight="bold" text-anchor="end" fill="#000" stroke="#000" stroke-width="0.35">CD95</text>
<path d="M224.2 444.2V461.2M220.9 444.2H227.5M220.9 461.2H227.5" stroke="#5e5e5e" stroke-width="1" fill="none"/>
<path d="M229.6 445.3V461.9M226.3 445.3H232.9M226.3 461.9H232.9" stroke="#5e5e5e" stroke-width="1" fill="none"/>
<path d="M235 446.6V462.2M231.7 446.6H238.3M231.7 462.2H238.3" stroke="#5e5e5e" stroke-width="1" fill="none"/>
<path d="M251.2 422.4V457.4M247.9 422.4H254.5M247.9 457.4H254.5" stroke="#5e5e5e" stroke-width="1" fill="none"/>
<path d="M267.4 415.5V450.1M264.1 415.5H270.7M264.1 450.1H270.7" stroke="#5e5e5e" stroke-width="1" fill="none"/>
<path d="M283.6 386.1V441.1M280.3 386.1H286.9M280.3 441.1H286.9" stroke="#5e5e5e" stroke-width="1" fill="none"/>
<path d="M316 360.5V426.6M312.7 360.5H319.3M312.7 426.6H319.3" stroke="#5e5e5e" stroke-width="1" fill="none"/>
<path d="M348.4 379.5V426.2M345.1 379.5H351.7M345.1 426.2H351.7" stroke="#5e5e5e" stroke-width="1" fill="none"/>
<path d="M213.5 453.9H348.5" stroke="#0c0c0c" stroke-width="1.1"/>
<polyline points="224.2,457.7 229.6,458.4 235,456.3 251.2,447.7 267.4,437.6 283.6,418.6 316,394.4 348.4,398.5" fill="none" stroke="#383838" stroke-width="2.2" stroke-linejoin="round"/>
<polygon points="224.2,454.97 226.8,459.67 221.6,459.67" fill="#707070" stroke="#333333" stroke-width="0.9" stroke-linejoin="miter"/>
<polygon points="229.6,455.67 232.2,460.37 227,460.37" fill="#707070" stroke="#333333" stroke-width="0.9" stroke-linejoin="miter"/>
<polygon points="235,453.57 237.6,458.27 232.4,458.27" fill="#707070" stroke="#333333" stroke-width="0.9" stroke-linejoin="miter"/>
<polygon points="251.2,444.97 253.8,449.67 248.6,449.67" fill="#707070" stroke="#333333" stroke-width="0.9" stroke-linejoin="miter"/>
<polygon points="267.4,434.87 270,439.57 264.8,439.57" fill="#707070" stroke="#333333" stroke-width="0.9" stroke-linejoin="miter"/>
<polygon points="283.6,415.87 286.2,420.57 281,420.57" fill="#707070" stroke="#333333" stroke-width="0.9" stroke-linejoin="miter"/>
<polygon points="316,391.67 318.6,396.37 313.4,396.37" fill="#707070" stroke="#333333" stroke-width="0.9" stroke-linejoin="miter"/>
<polygon points="348.4,395.77 351,400.47 345.8,400.47" fill="#707070" stroke="#333333" stroke-width="0.9" stroke-linejoin="miter"/>
<path d="M213.5 430.7V465.3M210.2 430.7H216.8M210.2 465.3H216.8" stroke="#2c2c2c" stroke-width="0.95" fill="none"/>
<polygon points="213.5,450.2 216.36,455.37 210.64,455.37" fill="#000" stroke="#000" stroke-width="0.9" stroke-linejoin="miter"/>
</g>
<g>
<rect x="371.2" y="338.1" width="147.7" height="147.2" fill="none" stroke="#1c1c1c" stroke-width="1"/>
<path d="M369 485.3H371.2" stroke="#1c1c1c" stroke-width="0.8"/>
<text x="369.5" y="487.17" font-size="5.2" text-anchor="end" fill="#000" stroke="#000" stroke-width="0.42">0</text>
<path d="M369 455.86H371.2" stroke="#1c1c1c" stroke-width="0.8"/>
<text x="369.5" y="457.73" font-size="5.2" text-anchor="end" fill="#000" stroke="#000" stroke-width="0.42">20</text>
<path d="M369 426.42H371.2" stroke="#1c1c1c" stroke-width="0.8"/>
<text x="369.5" y="428.29" font-size="5.2" text-anchor="end" fill="#000" stroke="#000" stroke-width="0.42">40</text>
<path d="M369 396.98H371.2" stroke="#1c1c1c" stroke-width="0.8"/>
<text x="369.5" y="398.85" font-size="5.2" text-anchor="end" fill="#000" stroke="#000" stroke-width="0.42">60</text>
<path d="M369 367.54H371.2" stroke="#1c1c1c" stroke-width="0.8"/>
<text x="369.5" y="369.41" font-size="5.2" text-anchor="end" fill="#000" stroke="#000" stroke-width="0.42">80</text>
<path d="M369 338.1H371.2" stroke="#1c1c1c" stroke-width="0.8"/>
<text x="369.5" y="339.97" font-size="5.2" text-anchor="end" fill="#000" stroke="#000" stroke-width="0.42" letter-spacing="-0.3">100</text>
<path d="M379.1 485.3V486.9" stroke="#1c1c1c" stroke-width="0.8"/>
<text x="379.1" y="492.3" font-size="5.4" text-anchor="middle" fill="#000" stroke="#000" stroke-width="0.5">HD</text>
<path d="M389.83 485.3V486.9" stroke="#1c1c1c" stroke-width="0.8"/>
<text x="389.83" y="492.3" font-size="5.4" text-anchor="middle" fill="#000" stroke="#000" stroke-width="0.5">1</text>
<path d="M395.26 485.3V486.9" stroke="#1c1c1c" stroke-width="0.8"/>
<text x="395.26" y="492.3" font-size="5.4" text-anchor="middle" fill="#000" stroke="#000" stroke-width="0.5">2</text>
<path d="M400.69 485.3V486.9" stroke="#1c1c1c" stroke-width="0.8"/>
<text x="400.69" y="492.3" font-size="5.4" text-anchor="middle" fill="#000" stroke="#000" stroke-width="0.5">3</text>
<path d="M416.98 485.3V486.9" stroke="#1c1c1c" stroke-width="0.8"/>
<text x="416.98" y="492.3" font-size="5.4" text-anchor="middle" fill="#000" stroke="#000" stroke-width="0.5">6</text>
<path d="M433.27 485.3V486.9" stroke="#1c1c1c" stroke-width="0.8"/>
<text x="433.27" y="492.3" font-size="5.4" text-anchor="middle" fill="#000" stroke="#000" stroke-width="0.5">9</text>
<path d="M449.56 485.3V486.9" stroke="#1c1c1c" stroke-width="0.8"/>
<text x="449.56" y="492.3" font-size="5.4" text-anchor="middle" fill="#000" stroke="#000" stroke-width="0.5">12</text>
<path d="M482.14 485.3V486.9" stroke="#1c1c1c" stroke-width="0.8"/>
<text x="482.14" y="492.3" font-size="5.4" text-anchor="middle" fill="#000" stroke="#000" stroke-width="0.5">18</text>
<path d="M514.72 485.3V486.9" stroke="#1c1c1c" stroke-width="0.8"/>
<text x="514.72" y="492.3" font-size="5.4" text-anchor="middle" fill="#000" stroke="#000" stroke-width="0.5">24</text>
<text x="517.6" y="345.1" font-size="7.3" font-weight="bold" text-anchor="end" fill="#000" stroke="#000" stroke-width="0.35">CD95</text>
<path d="M389.83 445.3V461.9M386.53 445.3H393.13M386.53 461.9H393.13" stroke="#545454" stroke-width="1" fill="none"/>
<path d="M395.26 456.5V462.9M391.96 456.5H398.56M391.96 462.9H398.56" stroke="#545454" stroke-width="1" fill="none"/>
<path d="M400.69 445.6V463.6M397.39 445.6H403.99M397.39 463.6H403.99" stroke="#545454" stroke-width="1" fill="none"/>
<path d="M416.98 435.2V457M413.68 435.2H420.28M413.68 457H420.28" stroke="#545454" stroke-width="1" fill="none"/>
<path d="M433.27 423.8V455.6M429.97 423.8H436.57M429.97 455.6H436.57" stroke="#545454" stroke-width="1" fill="none"/>
<path d="M449.56 399.9V448M446.26 399.9H452.86M446.26 448H452.86" stroke="#545454" stroke-width="1" fill="none"/>
<path d="M482.14 367.4V424.5M478.84 367.4H485.44M478.84 424.5H485.44" stroke="#545454" stroke-width="1" fill="none"/>
<path d="M514.72 387.5V433.1M511.42 387.5H518.02M511.42 433.1H518.02" stroke="#545454" stroke-width="1" fill="none"/>
<path d="M379.1 454.9H513" stroke="#0c0c0c" stroke-width="1.1"/>
<polyline points="389.83,454.9 395.26,457.7 400.69,456 416.98,449.1 433.27,442.1 449.56,423.1 482.14,402 514.72,404.8" fill="none" stroke="#2a2a2a" stroke-width="2.3" stroke-linejoin="round"/>
<polygon points="389.83,452 392.63,454.9 389.83,457.8 387.03,454.9" fill="#444444" stroke="#2a2a2a" stroke-width="0.5"/>
<polygon points="395.26,454.8 398.06,457.7 395.26,460.6 392.46,457.7" fill="#444444" stroke="#2a2a2a" stroke-width="0.5"/>
<polygon points="400.69,453.1 403.49,456 400.69,458.9 397.89,456" fill="#444444" stroke="#2a2a2a" stroke-width="0.5"/>
<polygon points="416.98,446.2 419.78,449.1 416.98,452 414.18,449.1" fill="#444444" stroke="#2a2a2a" stroke-width="0.5"/>
<polygon points="433.27,439.2 436.07,442.1 433.27,445 430.47,442.1" fill="#444444" stroke="#2a2a2a" stroke-width="0.5"/>
<polygon points="449.56,420.2 452.36,423.1 449.56,426 446.76,423.1" fill="#444444" stroke="#2a2a2a" stroke-width="0.5"/>
<polygon points="482.14,399.1 484.94,402 482.14,404.9 479.34,402" fill="#444444" stroke="#2a2a2a" stroke-width="0.5"/>
<polygon points="514.72,401.9 517.52,404.8 514.72,407.7 511.92,404.8" fill="#444444" stroke="#2a2a2a" stroke-width="0.5"/>
<path d="M379.1 437.6V462.9M375.8 437.6H382.4M375.8 462.9H382.4" stroke="#2c2c2c" stroke-width="0.95" fill="none"/>
<polygon points="379.1,451.56 382.32,454.9 379.1,458.23 375.88,454.9" fill="#000" stroke="#000" stroke-width="0.5"/>
</g>
<g>
<rect x="205.5" y="499.4" width="147.8" height="147.9" fill="none" stroke="#1c1c1c" stroke-width="1"/>
<path d="M203.3 647.3H205.5" stroke="#1c1c1c" stroke-width="0.8"/>
<text x="203.8" y="649.17" font-size="5.2" text-anchor="end" fill="#000" stroke="#000" stroke-width="0.42">0</text>
<path d="M203.3 597.87H205.5" stroke="#1c1c1c" stroke-width="0.8"/>
<text x="203.8" y="599.74" font-size="5.2" text-anchor="end" fill="#000" stroke="#000" stroke-width="0.42">50</text>
<path d="M203.3 548.43H205.5" stroke="#1c1c1c" stroke-width="0.8"/>
<text x="203.8" y="550.31" font-size="5.2" text-anchor="end" fill="#000" stroke="#000" stroke-width="0.42" letter-spacing="-0.3">100</text>
<path d="M203.3 499H205.5" stroke="#1c1c1c" stroke-width="0.8"/>
<text x="203.8" y="500.87" font-size="5.2" text-anchor="end" fill="#000" stroke="#000" stroke-width="0.42" letter-spacing="-0.3">150</text>
<path d="M213.5 647.3V648.9" stroke="#1c1c1c" stroke-width="0.8"/>
<text x="213.5" y="654.3" font-size="5.4" text-anchor="middle" fill="#000" stroke="#000" stroke-width="0.5">HD</text>
<path d="M224.2 647.3V648.9" stroke="#1c1c1c" stroke-width="0.8"/>
<text x="224.2" y="654.3" font-size="5.4" text-anchor="middle" fill="#000" stroke="#000" stroke-width="0.5">1</text>
<path d="M229.6 647.3V648.9" stroke="#1c1c1c" stroke-width="0.8"/>
<text x="229.6" y="654.3" font-size="5.4" text-anchor="middle" fill="#000" stroke="#000" stroke-width="0.5">2</text>
<path d="M235 647.3V648.9" stroke="#1c1c1c" stroke-width="0.8"/>
<text x="235" y="654.3" font-size="5.4" text-anchor="middle" fill="#000" stroke="#000" stroke-width="0.5">3</text>
<path d="M251.2 647.3V648.9" stroke="#1c1c1c" stroke-width="0.8"/>
<text x="251.2" y="654.3" font-size="5.4" text-anchor="middle" fill="#000" stroke="#000" stroke-width="0.5">6</text>
<path d="M267.4 647.3V648.9" stroke="#1c1c1c" stroke-width="0.8"/>
<text x="267.4" y="654.3" font-size="5.4" text-anchor="middle" fill="#000" stroke="#000" stroke-width="0.5">9</text>
<path d="M283.6 647.3V648.9" stroke="#1c1c1c" stroke-width="0.8"/>
<text x="283.6" y="654.3" font-size="5.4" text-anchor="middle" fill="#000" stroke="#000" stroke-width="0.5">12</text>
<path d="M316 647.3V648.9" stroke="#1c1c1c" stroke-width="0.8"/>
<text x="316" y="654.3" font-size="5.4" text-anchor="middle" fill="#000" stroke="#000" stroke-width="0.5">18</text>
<path d="M348.4 647.3V648.9" stroke="#1c1c1c" stroke-width="0.8"/>
<text x="348.4" y="654.3" font-size="5.4" text-anchor="middle" fill="#000" stroke="#000" stroke-width="0.5">24</text>
<text x="351.9" y="506.7" font-size="7.3" font-weight="bold" text-anchor="end" fill="#000" stroke="#000" stroke-width="0.35">BCL2</text>
<path d="M224.2 532.1V566.7M220.9 532.1H227.5M220.9 566.7H227.5" stroke="#5e5e5e" stroke-width="1" fill="none"/>
<path d="M229.6 538.3V572.5M226.3 538.3H232.9M226.3 572.5H232.9" stroke="#5e5e5e" stroke-width="1" fill="none"/>
<path d="M235 540V572.9M231.7 540H238.3M231.7 572.9H238.3" stroke="#5e5e5e" stroke-width="1" fill="none"/>
<path d="M251.2 551.4V575.3M247.9 551.4H254.5M247.9 575.3H254.5" stroke="#5e5e5e" stroke-width="1" fill="none"/>
<path d="M267.4 559.7V591.6M264.1 559.7H270.7M264.1 591.6H270.7" stroke="#5e5e5e" stroke-width="1" fill="none"/>
<path d="M283.6 562.5V584.3M280.3 562.5H286.9M280.3 584.3H286.9" stroke="#5e5e5e" stroke-width="1" fill="none"/>
<path d="M316 561.5V585.7M312.7 561.5H319.3M312.7 585.7H319.3" stroke="#5e5e5e" stroke-width="1" fill="none"/>
<path d="M348.4 565.6V592.3M345.1 565.6H351.7M345.1 592.3H351.7" stroke="#5e5e5e" stroke-width="1" fill="none"/>
<path d="M213.5 584H348.5" stroke="#0c0c0c" stroke-width="1.1"/>
<polyline points="224.2,549.4 229.6,559.1 235,558.7 251.2,564.9 267.4,578.8 283.6,575.7 316,572.5 348.4,581.5" fill="none" stroke="#383838" stroke-width="2.2" stroke-linejoin="round"/>
<polygon points="224.2,546.67 226.8,551.37 221.6,551.37" fill="#707070" stroke="#333333" stroke-width="0.9" stroke-linejoin="miter"/>
<polygon points="229.6,556.37 232.2,561.07 227,561.07" fill="#707070" stroke="#333333" stroke-width="0.9" stroke-linejoin="miter"/>
<polygon points="235,555.97 237.6,560.67 232.4,560.67" fill="#707070" stroke="#333333" stroke-width="0.9" stroke-linejoin="miter"/>
<polygon points="251.2,562.17 253.8,566.87 248.6,566.87" fill="#707070" stroke="#333333" stroke-width="0.9" stroke-linejoin="miter"/>
<polygon points="267.4,576.07 270,580.77 264.8,580.77" fill="#707070" stroke="#333333" stroke-width="0.9" stroke-linejoin="miter"/>
<polygon points="283.6,572.97 286.2,577.67 281,577.67" fill="#707070" stroke="#333333" stroke-width="0.9" stroke-linejoin="miter"/>
<polygon points="316,569.77 318.6,574.47 313.4,574.47" fill="#707070" stroke="#333333" stroke-width="0.9" stroke-linejoin="miter"/>
<polygon points="348.4,578.77 351,583.47 345.8,583.47" fill="#707070" stroke="#333333" stroke-width="0.9" stroke-linejoin="miter"/>
<path d="M213.5 573.2V594.7M210.2 573.2H216.8M210.2 594.7H216.8" stroke="#2c2c2c" stroke-width="0.95" fill="none"/>
<polygon points="213.5,581 216.36,586.17 210.64,586.17" fill="#000" stroke="#000" stroke-width="0.9" stroke-linejoin="miter"/>
</g>
<g>
<rect x="371.2" y="499" width="147.7" height="148.3" fill="none" stroke="#1c1c1c" stroke-width="1"/>
<path d="M369 647.3H371.2" stroke="#1c1c1c" stroke-width="0.8"/>
<text x="369.5" y="649.17" font-size="5.2" text-anchor="end" fill="#000" stroke="#000" stroke-width="0.42">0</text>
<path d="M369 597.87H371.2" stroke="#1c1c1c" stroke-width="0.8"/>
<text x="369.5" y="599.74" font-size="5.2" text-anchor="end" fill="#000" stroke="#000" stroke-width="0.42">50</text>
<path d="M369 548.43H371.2" stroke="#1c1c1c" stroke-width="0.8"/>
<text x="369.5" y="550.31" font-size="5.2" text-anchor="end" fill="#000" stroke="#000" stroke-width="0.42" letter-spacing="-0.3">100</text>
<path d="M369 499H371.2" stroke="#1c1c1c" stroke-width="0.8"/>
<text x="369.5" y="500.87" font-size="5.2" text-anchor="end" fill="#000" stroke="#000" stroke-width="0.42" letter-spacing="-0.3">150</text>
<path d="M379.1 647.3V648.9" stroke="#1c1c1c" stroke-width="0.8"/>
<text x="379.1" y="654.3" font-size="5.4" text-anchor="middle" fill="#000" stroke="#000" stroke-width="0.5">HD</text>
<path d="M389.83 647.3V648.9" stroke="#1c1c1c" stroke-width="0.8"/>
<text x="389.83" y="654.3" font-size="5.4" text-anchor="middle" fill="#000" stroke="#000" stroke-width="0.5">1</text>
<path d="M395.26 647.3V648.9" stroke="#1c1c1c" stroke-width="0.8"/>
<text x="395.26" y="654.3" font-size="5.4" text-anchor="middle" fill="#000" stroke="#000" stroke-width="0.5">2</text>
<path d="M400.69 647.3V648.9" stroke="#1c1c1c" stroke-width="0.8"/>
<text x="400.69" y="654.3" font-size="5.4" text-anchor="middle" fill="#000" stroke="#000" stroke-width="0.5">3</text>
<path d="M416.98 647.3V648.9" stroke="#1c1c1c" stroke-width="0.8"/>
<text x="416.98" y="654.3" font-size="5.4" text-anchor="middle" fill="#000" stroke="#000" stroke-width="0.5">6</text>
<path d="M433.27 647.3V648.9" stroke="#1c1c1c" stroke-width="0.8"/>
<text x="433.27" y="654.3" font-size="5.4" text-anchor="middle" fill="#000" stroke="#000" stroke-width="0.5">9</text>
<path d="M449.56 647.3V648.9" stroke="#1c1c1c" stroke-width="0.8"/>
<text x="449.56" y="654.3" font-size="5.4" text-anchor="middle" fill="#000" stroke="#000" stroke-width="0.5">12</text>
<path d="M482.14 647.3V648.9" stroke="#1c1c1c" stroke-width="0.8"/>
<text x="482.14" y="654.3" font-size="5.4" text-anchor="middle" fill="#000" stroke="#000" stroke-width="0.5">18</text>
<path d="M514.72 647.3V648.9" stroke="#1c1c1c" stroke-width="0.8"/>
<text x="514.72" y="654.3" font-size="5.4" text-anchor="middle" fill="#000" stroke="#000" stroke-width="0.5">24</text>
<text x="517.6" y="506" font-size="7.3" font-weight="bold" text-anchor="end" fill="#000" stroke="#000" stroke-width="0.35">BCL2</text>
<path d="M389.83 533.1V571.2M386.53 533.1H393.13M386.53 571.2H393.13" stroke="#545454" stroke-width="1" fill="none"/>
<path d="M395.26 558V571.2M391.96 558H398.56M391.96 571.2H398.56" stroke="#545454" stroke-width="1" fill="none"/>
<path d="M400.69 548.3V579.8M397.39 548.3H403.99M397.39 579.8H403.99" stroke="#545454" stroke-width="1" fill="none"/>
<path d="M416.98 558.7V585M413.68 558.7H420.28M413.68 585H420.28" stroke="#545454" stroke-width="1" fill="none"/>
<path d="M433.27 562.2V595M429.97 562.2H436.57M429.97 595H436.57" stroke="#545454" stroke-width="1" fill="none"/>
<path d="M449.56 568.7V590.2M446.26 568.7H452.86M446.26 590.2H452.86" stroke="#545454" stroke-width="1" fill="none"/>
<path d="M482.14 564.6V589.5M478.84 564.6H485.44M478.84 589.5H485.44" stroke="#545454" stroke-width="1" fill="none"/>
<path d="M514.72 567V592.6M511.42 567H518.02M511.42 592.6H518.02" stroke="#545454" stroke-width="1" fill="none"/>
<path d="M379.1 585.7H514" stroke="#0c0c0c" stroke-width="1.1"/>
<polyline points="389.83,552.8 395.26,559.1 400.69,564.9 416.98,576.4 433.27,577.4 449.56,578.4 482.14,573.2 514.72,577.4" fill="none" stroke="#2a2a2a" stroke-width="2.3" stroke-linejoin="round"/>
<polygon points="389.83,549.9 392.63,552.8 389.83,555.7 387.03,552.8" fill="#444444" stroke="#2a2a2a" stroke-width="0.5"/>
<polygon points="395.26,556.2 398.06,559.1 395.26,562 392.46,559.1" fill="#444444" stroke="#2a2a2a" stroke-width="0.5"/>
<polygon points="400.69,562 403.49,564.9 400.69,567.8 397.89,564.9" fill="#444444" stroke="#2a2a2a" stroke-width="0.5"/>
<polygon points="416.98,573.5 419.78,576.4 416.98,579.3 414.18,576.4" fill="#444444" stroke="#2a2a2a" stroke-width="0.5"/>
<polygon points="433.27,574.5 436.07,577.4 433.27,580.3 430.47,577.4" fill="#444444" stroke="#2a2a2a" stroke-width="0.5"/>
<polygon points="449.56,575.5 452.36,578.4 449.56,581.3 446.76,578.4" fill="#444444" stroke="#2a2a2a" stroke-width="0.5"/>
<polygon points="482.14,570.3 484.94,573.2 482.14,576.1 479.34,573.2" fill="#444444" stroke="#2a2a2a" stroke-width="0.5"/>
<polygon points="514.72,574.5 517.52,577.4 514.72,580.3 511.92,577.4" fill="#444444" stroke="#2a2a2a" stroke-width="0.5"/>
<path d="M379.1 579.5V593.7M375.8 579.5H382.4M375.8 593.7H382.4" stroke="#2c2c2c" stroke-width="0.95" fill="none"/>
<polygon points="379.1,582.37 382.32,585.7 379.1,589.04 375.88,585.7" fill="#000" stroke="#000" stroke-width="0.5"/>
</g>
<path d="M519.1 338.1V485.3M519.1 499V647.3" stroke="#858585" stroke-width="1.8"/>
<text x="84.4" y="8.8" font-size="11.2" font-weight="bold" fill="#111" stroke="#111" stroke-width="0.4">A</text>
<text x="99.0" y="7.6" font-size="7.3" font-weight="bold" fill="#111" stroke="#111" stroke-width="0.25">NAIVE</text>
<text x="234.6" y="171.5" font-size="12" font-weight="bold" fill="#111" stroke="#111" stroke-width="0.4">B</text>
<text x="246.8" y="170.7" font-size="7.45" font-weight="bold" fill="#111" stroke="#111" stroke-width="0.25">CENTRAL MEMORY</text>
<text x="398.4" y="171.5" font-size="12" font-weight="bold" fill="#111" stroke="#111" stroke-width="0.4">C</text>
<text x="411.6" y="170.7" font-size="7.55" font-weight="bold" fill="#111" stroke="#111" stroke-width="0.25">EFFECTOR MEMORY</text>
<text x="335.4" y="78.9" font-size="11.8" font-weight="bold" fill="#111" stroke="#111" stroke-width="0.25">CD4 Tcon</text>
<text x="275.7" y="673.1" font-size="10.8" letter-spacing="0.18" font-weight="bold" text-anchor="middle" fill="#0a0a0a" stroke="#0a0a0a" stroke-width="0.3">Months after allo-HSCT</text>
<path d="M27.5 670H203.8M347.4 670H518" stroke="#050505" stroke-width="1.9"/>
<path d="M9.3 15.5V161.2M9.3 179.6V323" stroke="#050505" stroke-width="1.8"/>
<path d="M8.5 338.4V461.3M8.5 525.3V647.6" stroke="#050505" stroke-width="1.8"/>
<text transform="translate(12.4 175.3) rotate(-90)" font-size="11" font-weight="bold" fill="#111" stroke="#111" stroke-width="0.45">%</text>
<text transform="translate(10.7 521.2) rotate(-90)" font-size="11" fill="#111" stroke="#111" stroke-width="0.3"><tspan font-weight="bold" stroke-width="0.55">MFI</tspan> ( X10<tspan font-size="7.5" dy="-4">3</tspan><tspan dy="4">)</tspan></text>
</svg>
</body>
</html>
